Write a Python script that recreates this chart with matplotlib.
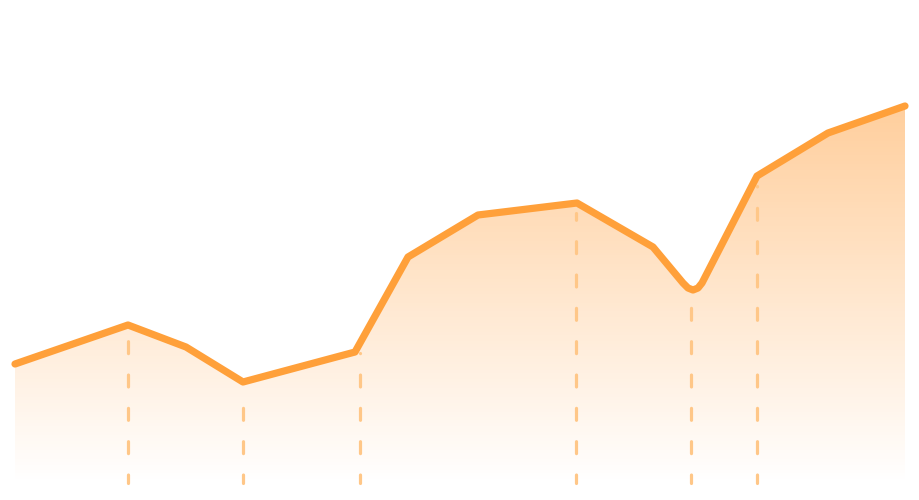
import matplotlib
matplotlib.use("Agg")
import matplotlib.pyplot as plt
import numpy as np

# series (x position along the timeline, value)
xs = [15, 128, 186, 243, 355, 408, 478, 577, 653, 683, 688, 693, 698, 702, 757, 828, 905]
vals = [136, 175, 153, 118, 148, 243, 285, 297, 253, 217, 212, 210, 212, 217, 324, 367, 394]

# x positions of the dashed marker lines
marks = [128, 243, 360, 576, 691, 757]

base = 17
line_color = "#ffa03a"
mark_color = "#ffc788"

plt.rcParams["lines.scale_dashes"] = False

fig = plt.figure(figsize=(9.2, 5), dpi=100)
ax = fig.add_axes([0, 0, 1, 1])
ax.set_xlim(0, 920)
ax.set_ylim(0, 500)
ax.axis("off")

# gradient area under the line
poly = ax.fill_between(xs, vals, base, color="none", lw=0)
top = max(vals)
n = 256
grad = np.zeros((n, 1, 4))
grad[:, 0, 0] = 1.0
grad[:, 0, 1] = 0.62
grad[:, 0, 2] = 0.23
grad[:, 0, 3] = np.linspace(0.0, 0.5, n)
img = ax.imshow(grad, extent=[0, 920, base, top], origin="lower",
                aspect="auto", interpolation="bilinear", zorder=1)
path = poly.get_paths()[0]
img.set_clip_path(path, transform=ax.transData)

# dashed markers from bottom up to just below the line
for mx in marks:
    ytop = np.interp(mx, xs, vals) - 10
    ax.plot([mx, mx], [base, ytop], color=mark_color, lw=2.3,
            linestyle=(2.5, (8.6, 15.4)), dash_capstyle="round", zorder=2)

ax.plot(xs, vals, color=line_color, lw=5.2, solid_joinstyle="round",
        solid_capstyle="round", zorder=3)

fig.savefig("out.png", dpi=100)
